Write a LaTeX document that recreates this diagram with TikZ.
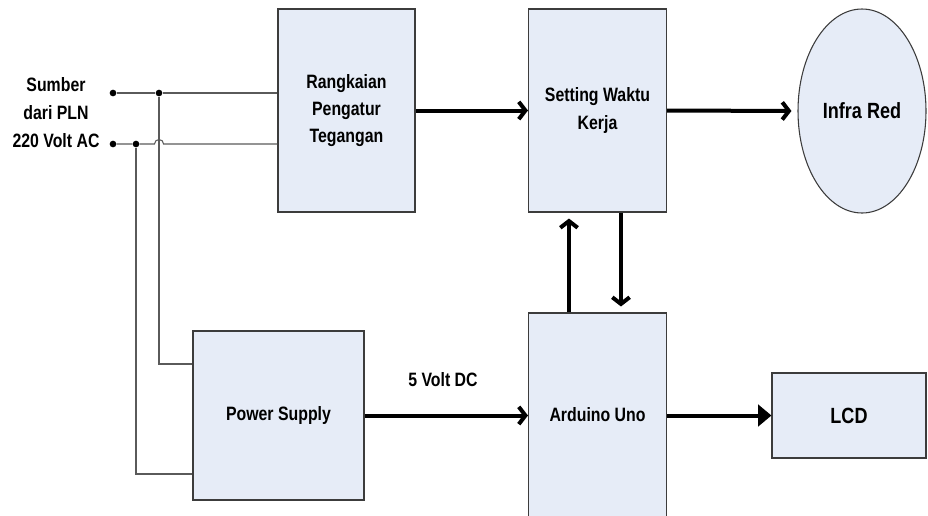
\documentclass[tikz,border=0pt]{standalone}
\usepackage{fontspec}
\setmainfont{Liberation Sans}[FakeStretch=0.82]
\usetikzlibrary{arrows.meta,shapes.geometric,calc}
\definecolor{boxfill}{RGB}{230,236,247}
\definecolor{boxline}{RGB}{60,60,60}
\definecolor{wire}{RGB}{90,90,90}
\tikzset{
  blk/.style={draw=boxline, line width=0.8pt, fill=boxfill, inner sep=0pt, align=center,
    font=\fontsize{14.5}{20.5}\selectfont\bfseries},
  ellblk/.style={blk, ellipse, font=\fontsize{16.5}{20}\selectfont\bfseries},
  dot/.style={circle, fill=black, inner sep=0pt, minimum size=5pt},
  wireln/.style={draw=wire, line width=0.8pt},
  bigarrow/.style={line width=3pt, -{Straight Barb[length=5pt,width=13pt]}},
  fillarrow/.style={line width=3pt, -{Triangle[length=10pt,width=16pt]}},
  lbl/.style={align=center, font=\fontsize{14.5}{21}\selectfont\bfseries}
}
\begin{document}
\begin{tikzpicture}[x=0.75pt,y=-0.75pt]
\useasboundingbox (0,0) rectangle (928,515);
% blocks
\node[blk, minimum width=102.75pt, minimum height=152.25pt] (reg) at (346.5,110.5) {Rangkaian\\Pengatur\\Tegangan};
\node[blk, minimum width=103.5pt, minimum height=152.25pt] (set) at (597.5,110.5) {Setting Waktu\\Kerja};
\node[ellblk, minimum width=96pt, minimum height=153pt] (ir) at (862,111) {Infra Red};
\node[blk, minimum width=128.25pt, minimum height=126.75pt] (ps) at (278.5,415.5) {Power Supply};
\node[blk, minimum width=103.5pt, minimum height=153pt] (ard) at (597.5,415) {Arduino Uno};
\node[blk, minimum width=115.5pt, minimum height=63.75pt, font=\fontsize{16.5}{20}\selectfont\bfseries] (lcd) at (849,415.5) {LCD};
% source label
\node[lbl] (src) at (56,113) {Sumber\\dari PLN\\220 Volt AC};
% dots
\node[dot] (d1) at (113,93) {};
\node[dot] (j1) at (159,93) {};
\node[dot] (d2) at (113,144) {};
\node[dot] (j2) at (136,144) {};
\coordinate (hop) at (159,144);
\coordinate (c1) at (159,364);
\coordinate (c2) at (136,474);
% wires
\draw[wireln] (d1) -- (j1) -- (j1 -| reg.west);
\draw[wireln] (d2) -- (j2) -- ($(hop)+(-4.5,0)$) arc[start angle=180, end angle=0, radius=3.4pt] -- (hop -| reg.west);
\draw[wireln] (j1) -- (c1) -- (c1 -| ps.west);
\draw[wireln] (j2) -- (c2) -- (c2 -| ps.west);
% arrows
\draw[bigarrow] (reg.east) -- (set.west);
\draw[bigarrow, shorten >=4.5pt] (set.east) -- (ir.west);
\draw[bigarrow, shorten >=4.5pt] ([xshift=-21.4pt]ard.north) -- ([xshift=-21.4pt]set.south);
\draw[bigarrow, shorten >=4.5pt] ([xshift=17.6pt]set.south) -- ([xshift=17.6pt]ard.north);
\draw[bigarrow] (ps.east) -- (ps.east -| ard.west) node[pos=0.48, above=17pt, lbl] (v5) {5 Volt DC};
\draw[fillarrow] (ard.east |- lcd.west) -- (lcd.west);
\end{tikzpicture}
\end{document}
